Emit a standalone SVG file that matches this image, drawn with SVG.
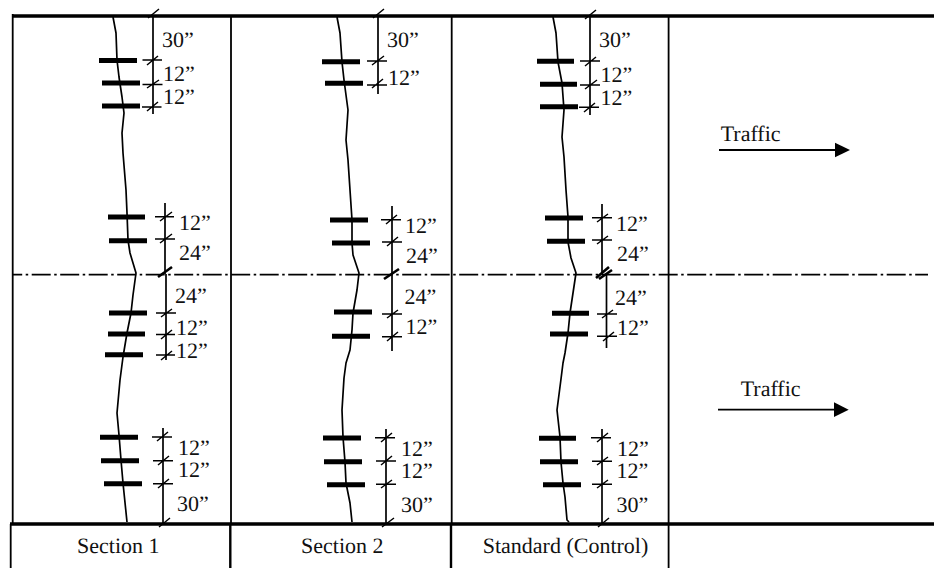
<svg xmlns="http://www.w3.org/2000/svg" width="934" height="568" viewBox="0 0 934 568">
<style>
text{font-family:"Liberation Serif","Times New Roman",serif;font-size:22px;fill:#111;text-rendering:geometricPrecision}
.l{fill:none;stroke:#000;stroke-width:1.8}
.h{fill:none;stroke:#000;stroke-width:3.6}
.c{fill:none;stroke:#000;stroke-width:1.7;stroke-linejoin:round}
.b{fill:none;stroke:#000;stroke-width:5}
.d{fill:none;stroke:#000;stroke-width:1.7}
.t{fill:none;stroke:#000;stroke-width:1.5}
.s{fill:none;stroke:#000;stroke-width:2.6}
</style>
<rect width="934" height="568" fill="#fff"/>
<g id="frame">
<path class="h" d="M12 16H934M10 524H934"/>
<path class="l" d="M12.7 14V524M231 16V524M451.7 16V524M668.6 16V524"/>
<path class="l" d="M10.700 524V568M668.6 524V568"/>
<path d="M230.3 524V568M451 524V568" fill="none" stroke="#000" stroke-width="2.4"/>
<path d="M12 274.6H928" fill="none" stroke="#000" stroke-width="1.8" stroke-dasharray="19 3.5 2.5 3.5" stroke-dashoffset="8.8"/>
</g>
<g id="section-1">
<path class="c" d="M113 17L116 33L117 60L119 77L122 97L124 113L122 133L123 153L126 190L127 213L128 240L130 253L136 273L133 295L131 313L127 333L123 357L120 380L117 413L119 435L121 460L123 483L127 522"/>
<path class="b" d="M99 60.5H137M102 83H140M102 106H140M108 217H145M109 240.7H147M109 313H147M108 334H145M105 354.7H143M100 437.3H138M101 460.7H139M104 483.7H142"/>
<path class="d" d="M153 16V114M165 203V274M166 274V360"/>
<path class="d" d="M163 428V524"/>
<path class="t" d="M142.5 60H162M147 65L158 56M142.5 84.5H162.500M147 88L159 80M142 107H161.500M147 111L158 102M148 18L159 9"/>
<path class="t" d="M155 216.700H174M160 221L172 212M155 239H175M160 243L172 234M156 313H176M161 317L172 309M156 334.500H175M161 339L172 330M156 355H175M161 360L172 351"/>
<path class="t" d="M152 437H172M157 441L168 432M153 460.700H173M158 465L169 456M153 483.700H173M158 488L169 479M159 527L170 518"/>
<path class="s" d="M158 277L172 267"/>
<text x="162" y="47">30”</text><text x="163" y="81">12”</text><text x="163" y="104">12”</text>
<text x="179" y="230">12”</text><text x="179" y="260">24”</text><text x="175" y="303">24”</text><text x="176" y="335">12”</text><text x="176" y="358">12”</text>
<text x="178" y="455">12”</text><text x="178" y="477">12”</text><text x="177" y="511">30”</text>
<text x="77" y="553">Section 1</text>
</g>
<g id="section-2">
<path class="c" d="M337 17L340 33L342 62L344 80L348 110L346 140L348 160L350 190L352 220L352 243L353 255L359 273L357 290L353 313L352 330L350 350L346 363L344 378L342 410L343 437L345 462L346 483L350 503L352 522"/>
<path class="b" d="M322 61.700H360M325 83.300H363M330 220H368M332 243H370M334 312H372M332 336.300H370M323 438H361M324 461.700H362M327 484.700H365"/>
<path class="d" d="M378 16V94M392 206V351"/>
<path class="d" d="M386 429V524"/>
<path class="t" d="M367 61H387M372 65L384 56M367 85H387M372 88L383 79M373 18L384 9"/>
<path class="t" d="M381 219.700H401M386 224L397 215M382 242H402M387 246L398 237M382 314H402M387 318L398 310M382 336.700H402M387 341L398 332"/>
<path class="t" d="M375 437.700H395M381 442L392 433M376 461H396M381 465L392 456M376 484.300H396M381 488L392 480M382 527L394 518"/>
<path class="s" d="M384 279L399 269"/>
<text x="387" y="47">30”</text><text x="388" y="85">12”</text>
<text x="405" y="233">12”</text><text x="406" y="263">24”</text><text x="404.500" y="304">24”</text><text x="405.500" y="334">12”</text>
<text x="401" y="456">12”</text><text x="401" y="478">12”</text><text x="401" y="512">30”</text>
<text x="301" y="553">Section 2</text>
</g>
<g id="standard-control">
<path class="c" d="M553 17L556 33L558 62L562 83L564 110L562 137L564 157L566 190L568 217L568 242L571 258L576 273L573 293L570 313L568 333L565 353L563 363L561 379L557 410L560 437L561 462L563 483L565 497L567 520L569 522"/>
<path class="b" d="M537 61.300H574M540 84.300H577M540 106.700H578M545 218H583M547 241.300H585M552 313.300H589M550 334H588M539 438.300H576M540 461.700H578M543 484.700H581"/>
<path class="d" d="M590 16V115M602 204V274M606.500 274V348"/>
<path class="d" d="M602 429V524"/>
<path class="t" d="M580 61H600M585 66L596 57M580 85H600M585 89L597 80M579 107.300H599M584 112L595 103M585 19L596 10"/>
<path class="t" d="M592 217.700H612M597 222L608 214M592 240H612M597 244L608 236M597 314H617M602 318L613 310M597 336.300H617M603 341L614 332"/>
<path class="t" d="M591 437.700H611M597 442L608 433M592 461.300H612M597 465L608 457M592 484.300H612M597 488L608 480M598 527L609 518"/>
<path class="s" d="M596 278L609 267M599 279L612 270"/>
<text x="599" y="47">30”</text><text x="600.500" y="82">12”</text><text x="600.500" y="105">12”</text>
<text x="616" y="231">12”</text><text x="617" y="261">24”</text><text x="615" y="305">24”</text><text x="617" y="335">12”</text>
<text x="617" y="456">12”</text><text x="616.500" y="478">12”</text><text x="616.500" y="512">30”</text>
<text x="482.700" y="553">Standard (Control)</text>
</g>
<g id="traffic-upper">
<text x="720.700" y="141">Traffic</text>
<path d="M719 150H837" fill="none" stroke="#000" stroke-width="1.8"/>
<path d="M835 142.700L850 150L835 157.300Z"/>
</g>
<g id="traffic-lower">
<text x="740.700" y="396">Traffic</text>
<path d="M718 409.700H836" fill="none" stroke="#000" stroke-width="1.8"/>
<path d="M834 402.300L848.700 409.700L834 417Z"/>
</g>
</svg>
